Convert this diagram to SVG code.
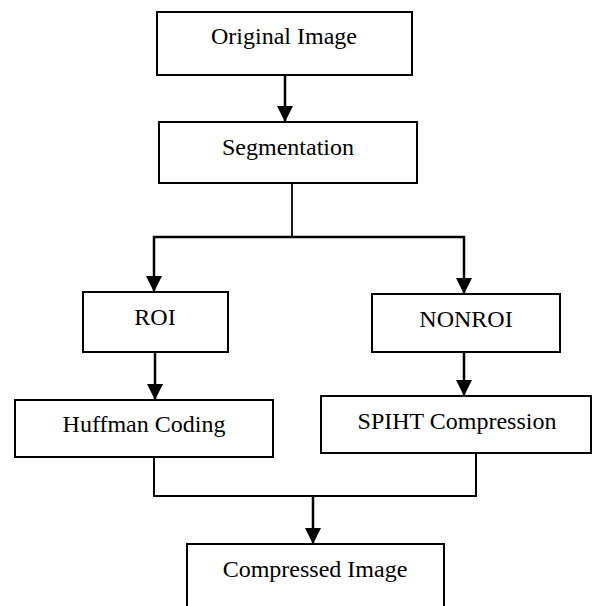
<svg xmlns="http://www.w3.org/2000/svg" width="593" height="606" viewBox="0 0 593 606">
<style>
.box{fill:#fff;stroke:#000;stroke-width:2}
.lbl{font-family:"Liberation Serif","Times New Roman",serif;font-size:24px;fill:#000;text-anchor:middle}
.ln{fill:none;stroke:#000;stroke-width:2.5}
.ar{fill:none;stroke:#000;stroke-width:2.5;marker-end:url(#ah)}
</style>
<defs>
<marker id="ah" markerUnits="userSpaceOnUse" markerWidth="16" markerHeight="16" viewBox="0 0 16 16" refX="16" refY="8" orient="auto">
<path d="M0,0 L16,8 L0,16 z" fill="#000"/>
</marker>
</defs>
<rect width="593" height="606" fill="#fff"/>
<g id="connectors">
<line class="ar" x1="285" y1="75" x2="285" y2="122"/>
<polyline class="ln" points="292,183 292,237" style="stroke-width:1.8"/>
<polyline class="ar" points="292,237 154,237 154,292"/>
<polyline class="ar" points="292,237 464,237 464,294"/>
<line class="ar" x1="155" y1="352" x2="155" y2="400"/>
<line class="ar" x1="464" y1="352" x2="464" y2="396"/>
<polyline class="ln" points="154,457 154,496 476,496 476,453" style="stroke-width:2"/>
<line class="ar" x1="313" y1="496" x2="313" y2="544"/>
</g>
<g id="original">
<rect class="box" x="157" y="12" width="255" height="63"/>
<text class="lbl" x="284" y="44">Original Image</text>
</g>
<g id="segmentation">
<rect class="box" x="159" y="122" width="258" height="61"/>
<text class="lbl" x="288" y="155">Segmentation</text>
</g>
<g id="roi">
<rect class="box" x="83" y="292" width="145" height="60"/>
<text class="lbl" x="155" y="325">ROI</text>
</g>
<g id="nonroi">
<rect class="box" x="372" y="294" width="188" height="58"/>
<text class="lbl" x="466" y="327">NONROI</text>
</g>
<g id="huffman">
<rect class="box" x="15" y="400" width="258" height="57"/>
<text class="lbl" x="144" y="432">Huffman Coding</text>
</g>
<g id="spiht">
<rect class="box" x="321" y="396" width="270" height="57"/>
<text class="lbl" x="457" y="429">SPIHT Compression</text>
</g>
<g id="compressed">
<rect class="box" x="187" y="544" width="257" height="90"/>
<text class="lbl" x="315" y="577">Compressed Image</text>
</g>
</svg>
